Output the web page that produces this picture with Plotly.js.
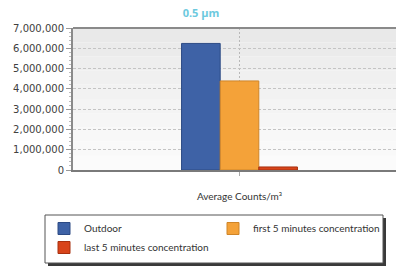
<!DOCTYPE html>
<html><head><meta charset="utf-8">
<script src="https://cdn.plot.ly/plotly-3.0.1.min.js"></script>
<style>html,body{margin:0;padding:0;overflow:hidden;background:#fff}#chart{width:410px;height:268px}</style>
</head><body><div id="chart"></div>
<script>
const categories = ["Average Counts/m³"];
const seriesNames = ["Outdoor", "first 5 minutes concentration", "last 5 minutes concentration"];
const outdoor = [6240000];
const first5 = [4390000];
const last5 = [150000];
const yTickValues = [0, 1000000, 2000000, 3000000, 4000000, 5000000, 6000000, 7000000];
const chartTitle = "0.5 µm";

const fills = ["#3e62a6", "#f4a239", "#d8441a"];
const lines = ["#2c4a84", "#cf8528", "#a8300f"];
const seriesValues = [outdoor, first5, last5];

const W = 410, H = 268, L = 73, R = 4, T = 28, B = 98;
const pw = W - L - R, ph = H - T - B;
const px2x = p => (p - L) / pw;
const py2y = p => (H - B - p) / ph;

const traces = seriesNames.map((n, i) => ({
  type: 'bar', name: n, x: categories, y: seriesValues[i],
  marker: {color: fills[i], line: {color: lines[i], width: 1}},
  hoverinfo: 'none'
}));

const bandColors = ["#e9e9e9","#ebebeb","#eeeeee","#f0f0f0","#f2f2f2","#f4f4f4","#f6f6f6","#f8f8f8","#f9f9f9","#fbfbfb"];
const shapes = bandColors.map((c, i) => ({
  type: 'rect', xref: 'paper', yref: 'paper', layer: 'below',
  x0: 0, x1: 1, y1: 1 - i / bandColors.length, y0: 1 - (i + 1) / bandColors.length,
  fillcolor: c, line: {width: 0}
}));
// legend shadow and box
shapes.push({type: 'rect', xref: 'paper', yref: 'paper', layer: 'above',
  x0: px2x(48), x1: px2x(386), y0: py2y(266), y1: py2y(218),
  fillcolor: '#3a3a3a', line: {width: 0}});
shapes.push({type: 'rect', xref: 'paper', yref: 'paper', layer: 'above',
  x0: px2x(45), x1: px2x(383), y0: py2y(263), y1: py2y(215),
  fillcolor: '#ffffff', line: {color: '#555', width: 1}});
// top border
shapes.push({type: 'line', xref: 'paper', yref: 'paper', layer: 'above',
  x0: 0, x1: 1, y0: 1, y1: 1, line: {color: '#8a8a8a', width: 2}});

const layout = {
  width: W, height: H,
  margin: {l: L, r: R, t: T, b: B, pad: 0},
  paper_bgcolor: '#ffffff', plot_bgcolor: 'rgba(0,0,0,0)',
  title: {text: '<b>' + chartTitle + '</b>', x: 201 / W, xref: 'container', xanchor: 'center',
    y: 1 - 13 / H, yref: 'container', yanchor: 'middle',
    font: {family: 'Open Sans', size: 11, color: '#6cc9de'}},
  barmode: 'group', bargap: 0.652, bargroupgap: 0,
  showlegend: true,
  legend: {orientation: 'h', xref: 'paper', yref: 'paper',
    x: px2x(44), y: py2y(214), xanchor: 'left', yanchor: 'top',
    bgcolor: 'rgba(0,0,0,0)', borderwidth: 0,
    entrywidth: 124, traceorder: 'normal',
    font: {family: 'Lato', size: 10, color: '#333'}},
  xaxis: {type: 'category', range: [-0.5, 0.5], showgrid: true, gridcolor: '#b8b8b8', griddash: '2px,2px',
    showline: true, linecolor: '#7a7a7a', linewidth: 2,
    ticks: 'outside', ticklen: 4, tickcolor: '#aaa', tickwidth: 1,
    tickfont: {family: 'Lato', size: 10, color: '#333'}, ticklabelstandoff: 12,
    zeroline: false, fixedrange: true},
  yaxis: {range: [0, 7000000], tickvals: yTickValues, tickformat: ',d',
    showgrid: true, gridcolor: '#c4c4c4', griddash: '3px,2px', gridwidth: 1,
    showline: true, linecolor: '#8a8a8a', linewidth: 2,
    ticks: 'outside', ticklen: 5, tickcolor: '#999', tickwidth: 1,
    minor: {ticks: 'outside', ticklen: 2, dtick: 200000, tickcolor: '#bbb', showgrid: false},
    tickfont: {family: 'DejaVu Sans', size: 10, color: '#404040'},
    zeroline: false, fixedrange: true},
  shapes: shapes
};

Plotly.newPlot('chart', traces, layout, {staticPlot: true, displayModeBar: false});
</script>
</body></html>
